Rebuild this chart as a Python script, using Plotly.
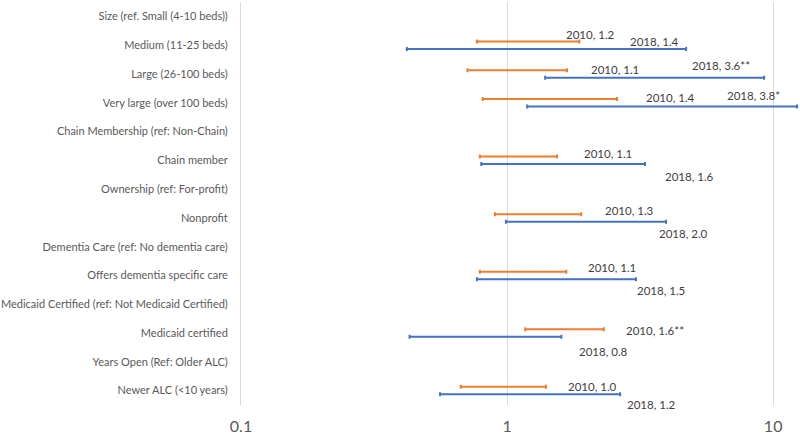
import math
import plotly.graph_objects as go

categories = [
    "Size (ref. Small (4-10 beds))",
    "Medium (11-25 beds)",
    "Large (26-100 beds)",
    "Very large (over 100 beds)",
    "Chain Membership (ref: Non-Chain)",
    "Chain member",
    "Ownership (ref: For-profit)",
    "Nonprofit",
    "Dementia Care (ref: No dementia care)",
    "Offers dementia specific care",
    "Medicaid Certified (ref: Not Medicaid Certified)",
    "Medicaid certified",
    "Years Open (Ref: Older ALC)",
    "Newer ALC (<10 years)",
]

# rows that carry estimates
est_rows = ["Medium (11-25 beds)", "Large (26-100 beds)", "Very large (over 100 beds)",
            "Chain member", "Nonprofit", "Offers dementia specific care",
            "Medicaid certified", "Newer ALC (<10 years)"]

or_2010 = [1.2, 1.1, 1.4, 1.1, 1.3, 1.1, 1.6, 1.0]
lo_2010 = [0.77, 0.71, 0.81, 0.79, 0.90, 0.79, 1.17, 0.67]
hi_2010 = [1.87, 1.68, 2.59, 1.54, 1.90, 1.67, 2.31, 1.40]
sig_2010 = ["", "", "", "", "", "", "**", ""]

or_2018 = [1.4, 3.6, 3.8, 1.6, 2.0, 1.5, 0.8, 1.2]
lo_2018 = [0.42, 1.39, 1.19, 0.80, 0.99, 0.77, 0.43, 0.56]
hi_2018 = [4.71, 9.25, 12.3, 3.30, 3.96, 3.05, 1.60, 2.66]
sig_2018 = ["", "**", "*", "", "", "", "", ""]

x_tick_vals = [0.1, 1, 10]
x_tick_text = ["0.1", "1", "10"]

# layout: label pixel offsets (dx right, dy down) from each point
off_2010 = [(36, -11), (71, -4), (98, -5), (64, -7), (66, -7), (68, -8), (63, -3), (59, -4)]
off_2018 = [(82, -4), (35, -8), (64, -7), (102, 16), (70, 16), (81, 15), (96, 18), (97, 14)]

ORANGE = "#ED7D31"
BLUE = "#4472C4"
row_shift = 0.13

fig = go.Figure()

def add_series(name, ors, los, his, color, shift):
    ys = [categories.index(r) + shift for r in est_rows]
    fig.add_trace(go.Scatter(
        x=ors, y=ys, mode="markers", name=name,
        marker=dict(color="rgba(0,0,0,0)", size=1),
        error_x=dict(type="data", symmetric=False,
                     array=[h - o for h, o in zip(his, ors)],
                     arrayminus=[o - l for o, l in zip(ors, los)],
                     color=color, thickness=2, width=2),
        showlegend=False, hoverinfo="skip", cliponaxis=False,
    ))

add_series("2010", or_2010, lo_2010, hi_2010, ORANGE, -row_shift)
add_series("2018", or_2018, lo_2018, hi_2018, BLUE, row_shift)

def add_labels(year, ors, sigs, offs):
    for r, o, s, (dx, dy) in zip(est_rows, ors, sigs, offs):
        fig.add_annotation(
            x=math.log10(o), y=categories.index(r), xref="x", yref="y",
            text=f"{year}, {o:.1f}{s}", showarrow=False,
            xanchor="left", yanchor="middle", xshift=dx, yshift=-dy,
            font=dict(family="Lato, sans-serif", size=11.5, color="#404040"),
        )

add_labels("2010", or_2010, sig_2010, off_2010)
add_labels("2018", or_2018, sig_2018, off_2018)

fig.update_layout(
    width=800, height=436,
    margin=dict(l=241, r=2, t=2, b=31),
    paper_bgcolor="white", plot_bgcolor="white",
    font=dict(family="Lato, sans-serif", color="#595959"),
)
fig.update_xaxes(
    type="log", range=[-1, math.log10(12.4)],
    tickvals=x_tick_vals, ticktext=x_tick_text,
    showgrid=True, gridcolor="#D9D9D9", gridwidth=1,
    zeroline=False, showline=False, ticks="",
    tickfont=dict(size=16, color="#595959"),
    ticklabelstandoff=10, automargin=False,
)
fig.update_yaxes(
    range=[len(categories) - 0.5, -0.5],
    tickvals=list(range(len(categories))), ticktext=categories,
    showgrid=False, zeroline=False, showline=True, linecolor="#D9D9D9", linewidth=1,
    ticks="", tickfont=dict(size=11, color="#595959"),
    ticklabelstandoff=10, automargin=False,
)

fig.write_html("out.html", config={"displayModeBar": False},
               post_script="document.body.style.margin='0';document.body.style.overflow='hidden';")
